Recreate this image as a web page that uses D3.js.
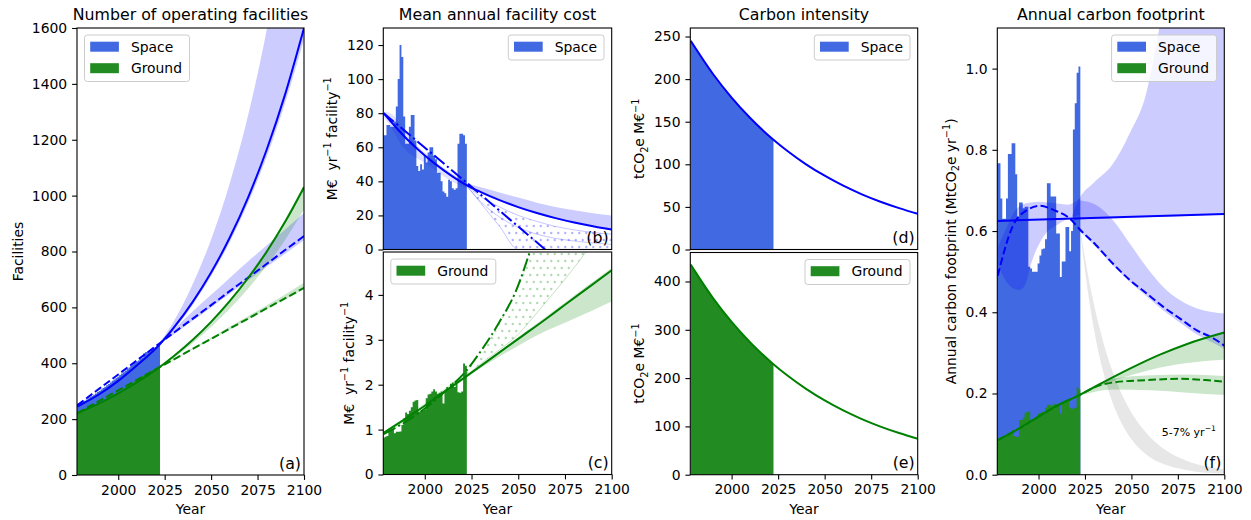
<!DOCTYPE html>
<html>
<head>
<meta charset="utf-8">
<script src="https://cdn.jsdelivr.net/npm/d3@7"></script>
<style>
body { margin: 0; background: #fff; }
svg { display: block; }
text { font-family: "DejaVu Sans", sans-serif; fill: #000; white-space: pre; }
</style>
</head>
<body>
<svg id="chart" width="1251" height="520"></svg>
<script>
// ---- data ----
const barYears = d3.range(1978, 2023);

// (a) number of operating facilities
const aSpace = [255,257,260,263,266,270,275,279,283,287,292,297,301,306,311,316,321,326,331,337,342,347,352,358,363,368,373,379,385,391,396,401,405,410,415,420,436,440,441,443,447,452,458,462,463];
const aGround = [222,225,228,231,234,237,240,243,246,249,253,256,259,263,267,270,274,278,282,286,290,294,298,302,306,310,314,318,322,327,331,335,340,345,349,354,358,362,366,370,374,377,380,382,384];
const aFitYears = [1978, 1990, 2000, 2010, 2022, 2030, 2040, 2050, 2060, 2070, 2080, 2090, 2100];
const aSpaceExp = [245, 290, 337, 392, 465, 528, 619, 725, 849, 995, 1166, 1366, 1600];
const aSpaceLin = [250, 310, 360, 410, 470, 510, 559, 608, 658, 707, 756, 806, 855];
const aGroundExp = [221, 257, 292, 331, 385, 426, 483, 548, 622, 706, 800, 908, 1030];
const aGroundLin = [222, 266, 303, 340, 385, 414, 451, 487, 524, 560, 597, 633, 670];
const aBandYears = [2022, 2030, 2040, 2050, 2060, 2070, 2080, 2090, 2100];
const aSpaceExpHi = [470, 551, 682, 843, 1043, 1290, 1596, 1975, 2443];
const aSpaceExpLo = [460, 520, 608, 712, 833, 975, 1140, 1335, 1560];
const aSpaceLinHi = [472, 522, 585, 645, 705, 765, 822, 880, 938];
const aSpaceLinLo = [466, 504, 552, 600, 649, 697, 745, 793, 840];
const aGroundExpHi = [387, 429, 487, 553, 628, 713, 808, 917, 1040];
const aGroundExpLo = [383, 420, 472, 530, 595, 668, 750, 843, 950];
const aGroundLinHi = [386, 416, 455, 492, 531, 569, 608, 647, 688];
const aGroundLinLo = [384, 412, 449, 485, 521, 557, 593, 629, 665];

// (b) mean annual facility cost, space
const bSpace = [67,67,73,73,72,72,75,84,100,120,113,78,62,62,72,79,79,64,49,46,50,47,55,51,57,60,60,55,53,45,45,40,34,33,31,41,40,36,35,36,62,68,68,67,62];
const bFitYears = [1978, 1990, 2000, 2010, 2022, 2030, 2040, 2050, 2060, 2070, 2080, 2090, 2100];
const bSpaceExp = [80, 65.3, 55.2, 46.6, 38, 33.7, 29, 24.9, 21.4, 18.4, 15.8, 13.6, 11.7];
const bLinYears = [1978, 2022, 2064.4];
const bSpaceLin = [80, 39.6, 0];
const bBandYears = [2022, 2030, 2040, 2050, 2060, 2070, 2080, 2090, 2100];
const bBandHi = [39, 36.5, 33.5, 30.5, 27.5, 25, 23, 21.3, 20];
const bBandLo = [37.5, 33, 28.5, 24.3, 20.9, 17.9, 15.3, 13.2, 11.2];
const bDotHi = [38, 31, 25, 20, 16.5, 13.5, 11.5, 10, 9];
const bDotLo = [38, 27.1, 13.6, 0, 0, 0, 0, 0, 0];
const bThin = [38, 28, 19, 13, 9, 6.5, 5, 3.8, 3];
const bHistYears = [1978, 1983, 1987, 1990, 1995, 2000, 2010, 2022];
const bHistHi = [81, 79, 73, 69, 62, 57, 48, 40];
const bHistLo = [78, 70, 62, 58, 54, 51, 43, 36];

// (c) mean annual facility cost, ground
const cGround = [0.82,0.84,0.86,0.95,0.98,1.0,0.92,0.95,0.95,0.96,1.1,1.25,1.38,1.35,1.42,1.5,1.62,1.65,1.66,1.4,1.42,1.42,1.45,1.7,1.78,1.8,1.85,1.9,1.85,1.8,1.82,1.85,1.58,1.86,1.95,1.9,2.02,2.05,1.95,2.02,1.83,1.82,1.85,2.47,2.42];
const cFitYears = [1978, 1990, 2000, 2010, 2022, 2035, 2050, 2065, 2075, 2090, 2100];
const cGroundLin = [0.93, 1.25, 1.53, 1.83, 2.18, 2.57, 3.02, 3.47, 3.78, 4.24, 4.55];
const cBandYears = [2022, 2035, 2050, 2065, 2075, 2090, 2100];
const cBandHi = [2.2, 2.6, 3.06, 3.52, 3.83, 4.3, 4.6];
const cBandLo = [2.16, 2.5, 2.87, 3.2, 3.38, 3.66, 3.85];
const cExpYears = [1978, 1990, 2000, 2010, 2022, 2031, 2040, 2049, 2056, 2062];
const cGroundExp = [0.9, 1.18, 1.47, 1.82, 2.3, 2.81, 3.4, 4.11, 4.93, 5.7];
const cDotYears = [2022, 2031, 2040, 2049, 2056, 2062, 2075, 2087, 2100];
const cDotHi = [2.3, 2.81, 3.4, 4.11, 4.93, 5.7, 7, 8, 9];
const cDotLo = [2.2, 2.5, 2.78, 3.08, 3.4, 3.7, 4.35, 5.0, 5.8];
const cHistYears = [1978, 1990, 2000, 2010, 2022];
const cHistHi = [0.96, 1.3, 1.6, 1.9, 2.3];
const cHistLo = [0.88, 1.18, 1.46, 1.78, 2.14];

// (d), (e) carbon intensity
const dYears = [1978, 1990, 2000, 2010, 2022, 2030, 2040, 2050, 2060, 2070, 2080, 2090, 2100];
const dSpace = [245, 206, 178.3, 154.3, 129.7, 115.6, 100, 86.6, 74.9, 64.8, 56.1, 48.6, 42];
const eGround = [435, 365.7, 316.5, 274, 230.3, 205.2, 177.6, 153.7, 133, 115.1, 99.6, 86.2, 74.6];

// (f) annual carbon footprint
const fSpace = [0.767,0.767,0.68,0.63,0.63,0.68,0.79,0.79,0.816,0.816,0.74,0.635,0.67,0.67,0.656,0.66,0.66,0.512,0.508,0.5,0.5,0.5,0.52,0.54,0.555,0.557,0.58,0.718,0.718,0.685,0.685,0.685,0.594,0.594,0.487,0.525,0.525,0.61,0.61,0.55,0.6,0.85,0.915,0.99,1.005];
const fGround = [0.083,0.085,0.088,0.09,0.095,0.098,0.1,0.105,0.11,0.095,0.093,0.094,0.135,0.135,0.14,0.152,0.155,0.155,0.13,0.135,0.14,0.14,0.15,0.152,0.155,0.15,0.165,0.172,0.172,0.17,0.172,0.175,0.172,0.175,0.15,0.178,0.182,0.18,0.185,0.165,0.162,0.165,0.165,0.215,0.21];
const fLinYears = [1978, 2100];
const fSpaceLin = [0.625, 0.642];
const fPeakYears = [1978, 1986, 1994, 2001, 2008, 2017, 2022, 2031, 2040, 2049, 2058, 2067, 2076, 2085, 2094, 2100];
const fSpacePeak = [0.49, 0.611, 0.652, 0.662, 0.652, 0.63, 0.605, 0.565, 0.52, 0.48, 0.447, 0.414, 0.385, 0.356, 0.336, 0.318];
const fLowBandYears = [2022, 2031, 2040, 2049, 2058, 2067, 2076, 2085, 2094, 2100];
const fLowBandHi = [0.676, 0.664, 0.627, 0.57, 0.512, 0.463, 0.43, 0.41, 0.4, 0.397];
const fLowBandLo = [0.6, 0.56, 0.515, 0.475, 0.44, 0.405, 0.375, 0.346, 0.325, 0.31];
const fFanYears = [2017, 2022, 2030, 2040, 2049, 2058, 2065, 2080, 2100];
const fFanHi = [0.625, 0.68, 0.72, 0.765, 0.84, 0.94, 1.1, 1.6, 2.4];
const fFanLo = [0.625, 0.628, 0.63, 0.631, 0.633, 0.634, 0.635, 0.637, 0.642];
const fHistYears = [1978, 1982, 1986, 1990, 1993, 1996, 2000, 2005, 2010, 2016, 2022];
const fHistHi = [0.56, 0.6, 0.64, 0.662, 0.668, 0.67, 0.672, 0.67, 0.668, 0.665, 0.68];
const fHistLo = [0.52, 0.48, 0.46, 0.455, 0.47, 0.52, 0.565, 0.6, 0.615, 0.63, 0.64];
const fDeclYears = [2022, 2025, 2030, 2035, 2040, 2045, 2050, 2060, 2070, 2080, 2090, 2100];
const fDeclHi = [0.62, 0.534, 0.416, 0.324, 0.252, 0.196, 0.153, 0.093, 0.056, 0.034, 0.021, 0.013];
const fDeclLo = [0.62, 0.503, 0.354, 0.25, 0.176, 0.124, 0.087, 0.043, 0.022, 0.011, 0.005, 0.003];
const fGLinYears = [1978, 1990, 2000, 2010, 2022, 2035, 2050, 2065, 2080, 2100];
const fGroundLin = [0.085, 0.115, 0.143, 0.17, 0.196, 0.228, 0.263, 0.295, 0.322, 0.35];
const fGBandYears = [2022, 2040, 2060, 2080, 2100];
const fGroundLinHi = [0.197, 0.24, 0.285, 0.322, 0.352];
const fGroundLinLo = [0.195, 0.23, 0.258, 0.275, 0.283];
const fGPeakYears = [1978, 1990, 2000, 2010, 2022, 2031, 2040, 2058, 2076, 2090, 2100];
const fGroundPeak = [0.085, 0.115, 0.143, 0.17, 0.196, 0.217, 0.227, 0.233, 0.236, 0.233, 0.229];
const fGroundPeakHi = [0.198, 0.236, 0.245, 0.247, 0.243];
const fGroundPeakLo = [0.194, 0.21, 0.208, 0.202, 0.196];

const yearTicks = [2000, 2025, 2050, 2075, 2100];

// ---- styles ----
const SPACE_BAR = '#4169e1', GROUND_BAR = '#228b22';
const BLUE = '#0000ff', GREEN = '#008000';
const FS = 13.9;
const DASH = '7.7,3.3', DASHDOT = '13.3,3.3,2.1,3.3';

const svg = d3.select('#chart');
const defs = svg.append('defs');

// sparse dot hatch: rows 7px apart, every other row shifted by half a step
function dotPattern(id, color) {
    const p = defs.append('pattern').attr('id', id)
        .attr('width', 7).attr('height', 14).attr('patternUnits', 'userSpaceOnUse');
    p.append('circle').attr('cx', 1.75).attr('cy', 2).attr('r', 1.2).attr('fill', color).attr('opacity', 0.3);
    p.append('circle').attr('cx', 5.25).attr('cy', 9).attr('r', 1.2).attr('fill', color).attr('opacity', 0.3);
}
dotPattern('dots-blue', BLUE);
dotPattern('dots-green', GREEN);

function makePanel(id, x0, x1, y0, y1, ymax) {
    const x = d3.scaleLinear().domain([1977.8, 2100]).range([x0, x1]);
    const y = d3.scaleLinear().domain([0, ymax]).range([y1, y0]);
    defs.append('clipPath').attr('id', 'clip-' + id)
        .append('rect').attr('x', x0).attr('y', y0).attr('width', x1 - x0).attr('height', y1 - y0);
    const g = svg.append('g');
    const plot = g.append('g').attr('clip-path', `url(#clip-${id})`);
    return { id, x, y, x0, x1, y0, y1, g, plot };
}

function pairs(xs, ys) { return xs.map((t, i) => [t, ys[i]]); }

function drawBars(p, vals, color) {
    const pts = barYears.map((yr, i) => [yr - 0.5, vals[i]]);
    pts.push([barYears[barYears.length - 1] + 0.5, vals[vals.length - 1]]);
    p.plot.append('path')
        .attr('d', d3.area().x(d => p.x(d[0])).y0(p.y(0)).y1(d => p.y(d[1])).curve(d3.curveStepAfter)(pts))
        .attr('fill', color);
}

function drawBand(p, xs, lo, hi, fill, opacity) {
    const pts = xs.map((t, i) => [t, lo[i], hi[i]]);
    return p.plot.append('path')
        .attr('d', d3.area().x(d => p.x(d[0])).y0(d => p.y(d[1])).y1(d => p.y(d[2])).curve(d3.curveMonotoneX)(pts))
        .attr('fill', fill).attr('fill-opacity', opacity);
}

function drawLine(p, xs, ys, color, opts = {}) {
    const curve = opts.linear ? d3.curveLinear : d3.curveMonotoneX;
    p.plot.append('path')
        .attr('d', d3.line().x(d => p.x(d[0])).y(d => p.y(d[1])).curve(curve)(pairs(xs, ys)))
        .attr('fill', 'none').attr('stroke', color)
        .attr('stroke-width', opts.width || 2)
        .attr('stroke-opacity', opts.opacity || 1)
        .attr('stroke-dasharray', opts.dash || null);
}

function rich(sel, parts, size) {
    let shift = 0;
    parts.forEach(([s, kind]) => {
        const target = kind === 'sup' ? -0.42 * size : kind === 'sub' ? 0.25 * size : 0;
        sel.append('tspan').attr('dy', target - shift)
            .attr('font-size', kind === 'n' ? size : size * 0.7).text(s);
        shift = target;
    });
}

function axes(p, yticks, fmt, showX) {
    const ya = p.g.append('g').attr('transform', `translate(${p.x0},0)`)
        .call(d3.axisLeft(p.y).tickValues(yticks).tickFormat(fmt).tickSize(4.9).tickPadding(4.9));
    ya.select('.domain').remove();
    ya.selectAll('text').attr('font-size', FS).attr('font-family', '"DejaVu Sans", sans-serif');
    ya.selectAll('line').attr('stroke', '#000').attr('stroke-width', 1.1);
    if (showX) {
        const xa = p.g.append('g').attr('transform', `translate(0,${p.y1})`)
            .call(d3.axisBottom(p.x).tickValues(yearTicks).tickFormat(d3.format('d')).tickSize(4.9).tickPadding(4.9));
        xa.select('.domain').remove();
        xa.selectAll('text').attr('font-size', FS).attr('font-family', '"DejaVu Sans", sans-serif');
        xa.selectAll('line').attr('stroke', '#000').attr('stroke-width', 1.1);
        p.g.append('text').attr('x', (p.x0 + p.x1) / 2).attr('y', 514)
            .attr('text-anchor', 'middle').attr('font-size', FS).text('Year');
    }
    p.g.append('rect').attr('x', p.x0).attr('y', p.y0)
        .attr('width', p.x1 - p.x0).attr('height', p.y1 - p.y0)
        .attr('fill', 'none').attr('stroke', '#000').attr('stroke-width', 1.1);
}

function yLabel(p, bx, parts) {
    const t = p.g.append('text')
        .attr('transform', `translate(${bx},${(p.y0 + p.y1) / 2}) rotate(-90)`)
        .attr('text-anchor', 'middle').attr('font-size', FS);
    rich(t, parts, FS);
}

function title(p, s) {
    p.g.append('text').attr('x', (p.x0 + p.x1) / 2).attr('y', 19.5)
        .attr('text-anchor', 'middle').attr('font-size', 15.8).text(s);
}

function letter(p, s) {
    p.g.append('text').attr('x', p.x1 - 3).attr('y', p.y1 - 6.5)
        .attr('text-anchor', 'end').attr('font-size', 15.8).text(s);
}

function legend(p, items, side, w) {
    const h = items.length === 1 ? 25 : 46.5;
    const bx = side === 'left' ? p.x0 + 7.5 : p.x1 - 7.7 - w;
    const by = p.y0 + 7;
    p.g.append('rect').attr('x', bx).attr('y', by).attr('width', w).attr('height', h)
        .attr('rx', 2.8).attr('fill', '#fff').attr('fill-opacity', 0.8)
        .attr('stroke', '#cccccc').attr('stroke-width', 1);
    items.forEach(([label, color], i) => {
        const cy = by + 11.7 + 21.5 * i;
        p.g.append('rect').attr('x', bx + 5.7).attr('y', cy - 5).attr('width', 28.7).attr('height', 10).attr('fill', color);
        p.g.append('text').attr('x', bx + 46.4).attr('y', cy + 5).attr('font-size', FS).text(label);
    });
}

// ---- panel (a) ----
const pa = makePanel('a', 77, 304, 28, 475, 1600);
drawBars(pa, aSpace, SPACE_BAR);
drawBars(pa, aGround, GROUND_BAR);
drawBand(pa, aBandYears, aSpaceExpLo, aSpaceExpHi, BLUE, 0.2);
drawBand(pa, aBandYears, aSpaceLinLo, aSpaceLinHi, BLUE, 0.2);
drawBand(pa, aBandYears, aGroundExpLo, aGroundExpHi, GREEN, 0.2);
drawBand(pa, aBandYears, aGroundLinLo, aGroundLinHi, GREEN, 0.2);
drawLine(pa, aFitYears, aSpaceExp, BLUE);
drawLine(pa, aFitYears, aSpaceLin, BLUE, { dash: DASH });
drawLine(pa, aFitYears, aGroundExp, GREEN);
drawLine(pa, aFitYears, aGroundLin, GREEN, { dash: DASH });
axes(pa, d3.range(0, 1601, 200), d3.format('d'), true);
yLabel(pa, 23.3, [['Facilities', 'n']]);
title(pa, 'Number of operating facilities');
legend(pa, [['Space', SPACE_BAR], ['Ground', GROUND_BAR]], 'left', 105);
letter(pa, '(a)');

// ---- panel (b) ----
const pb = makePanel('b', 383.3, 611.7, 28, 249.5, 130);
drawBars(pb, bSpace, SPACE_BAR);
drawBand(pb, bHistYears, bHistLo, bHistHi, BLUE, 0.12);
drawBand(pb, bBandYears, bBandLo, bBandHi, BLUE, 0.2);
drawBand(pb, bBandYears, bDotLo, bDotHi, 'url(#dots-blue)', 1);
drawLine(pb, bBandYears, bDotHi, BLUE, { width: 0.9, opacity: 0.25 });
drawLine(pb, bBandYears, bDotLo, BLUE, { width: 0.9, opacity: 0.25 });
drawLine(pb, bBandYears, bThin, BLUE, { width: 0.9, opacity: 0.25 });
drawLine(pb, bFitYears, bSpaceExp, BLUE);
drawLine(pb, bLinYears, bSpaceLin, BLUE, { dash: DASHDOT, linear: true });
axes(pb, d3.range(0, 121, 20), d3.format('d'), false);
yLabel(pb, 337, [['M€  yr', 'n'], ['−1', 'sup'], [' facility', 'n'], ['−1', 'sup']]);
title(pb, 'Mean annual facility cost');
legend(pb, [['Space', SPACE_BAR]], 'right', 95.7);
letter(pb, '(b)');

// ---- panel (c) ----
const pc = makePanel('c', 383.3, 611.7, 252, 474.5, 4.955);
drawBars(pc, cGround, GROUND_BAR);
drawBand(pc, cHistYears, cHistLo, cHistHi, GREEN, 0.12);
drawBand(pc, cBandYears, cBandLo, cBandHi, GREEN, 0.2);
drawBand(pc, cDotYears, cDotLo, cDotHi, 'url(#dots-green)', 1);
drawLine(pc, cDotYears, cDotLo, GREEN, { width: 0.9, opacity: 0.25 });
drawLine(pc, cFitYears, cGroundLin, GREEN);
drawLine(pc, cExpYears, cGroundExp, GREEN, { dash: DASHDOT });
axes(pc, [0, 1, 2, 3, 4], d3.format('d'), true);
yLabel(pc, 354, [['M€  yr', 'n'], ['−1', 'sup'], [' facility', 'n'], ['−1', 'sup']]);
legend(pc, [['Ground', GROUND_BAR]], 'left', 105);
letter(pc, '(c)');

// ---- panels (d), (e) ----
const pd = makePanel('d', 690.3, 917.7, 28, 249.5, 260);
const pe = makePanel('e', 690.3, 917.7, 252.5, 474.7, 460);
defs.append('clipPath').attr('id', 'clip-hist')
    .append('rect').attr('x', 0).attr('y', 0).attr('width', pd.x(2022.5)).attr('height', 520);
[[pd, dSpace, SPACE_BAR, BLUE], [pe, eGround, GROUND_BAR, GREEN]].forEach(([p, vals, fill, stroke]) => {
    p.plot.append('g').attr('clip-path', 'url(#clip-hist)').append('path')
        .attr('d', d3.area().x(d => p.x(d[0])).y0(p.y(0)).y1(d => p.y(d[1])).curve(d3.curveMonotoneX)(pairs(dYears, vals)))
        .attr('fill', fill);
    drawLine(p, dYears, vals, stroke);
});
axes(pd, d3.range(0, 251, 50), d3.format('d'), false);
axes(pe, d3.range(0, 401, 100), d3.format('d'), true);
yLabel(pd, 644.4, [['tCO', 'n'], ['2', 'sub'], ['e M€', 'n'], ['−1', 'sup']]);
yLabel(pe, 644.4, [['tCO', 'n'], ['2', 'sub'], ['e M€', 'n'], ['−1', 'sup']]);
title(pd, 'Carbon intensity');
legend(pd, [['Space', SPACE_BAR]], 'right', 95.7);
legend(pe, [['Ground', GROUND_BAR]], 'right', 105);
letter(pd, '(d)');
letter(pe, '(e)');

// ---- panel (f) ----
const pf = makePanel('f', 997.3, 1224.3, 28, 474.7, 1.1);
drawBars(pf, fSpace, SPACE_BAR);
drawBars(pf, fGround, GROUND_BAR);
drawBand(pf, fHistYears, fHistLo, fHistHi, BLUE, 0.2);
drawBand(pf, fFanYears, fFanLo, fFanHi, BLUE, 0.2);
drawBand(pf, fLowBandYears, fLowBandLo, fLowBandHi, BLUE, 0.2);
drawBand(pf, fDeclYears, fDeclLo, fDeclHi, '#d3d3d3', 0.55);
drawBand(pf, fGBandYears, fGroundLinLo, fGroundLinHi, GREEN, 0.2);
drawBand(pf, fGBandYears, fGroundPeakLo, fGroundPeakHi, GREEN, 0.2);
drawLine(pf, fLinYears, fSpaceLin, BLUE, { linear: true });
drawLine(pf, fPeakYears, fSpacePeak, BLUE, { dash: DASH });
drawLine(pf, fGLinYears, fGroundLin, GREEN);
drawLine(pf, fGPeakYears, fGroundPeak, GREEN, { dash: DASH });
const note = pf.g.append('text').attr('x', 1161.7).attr('y', 436).attr('font-size', 11);
rich(note, [['5-7% yr', 'n'], ['−1', 'sup']], 11);
axes(pf, [0, 0.2, 0.4, 0.6, 0.8, 1.0], d3.format('.1f'), true);
yLabel(pf, 956, [['Annual carbon footprint (MtCO', 'n'], ['2', 'sub'], ['e yr', 'n'], ['−1', 'sup'], [')', 'n']]);
title(pf, 'Annual carbon footprint');
legend(pf, [['Space', SPACE_BAR], ['Ground', GROUND_BAR]], 'right', 105);
letter(pf, '(f)');
</script>
</body>
</html>
